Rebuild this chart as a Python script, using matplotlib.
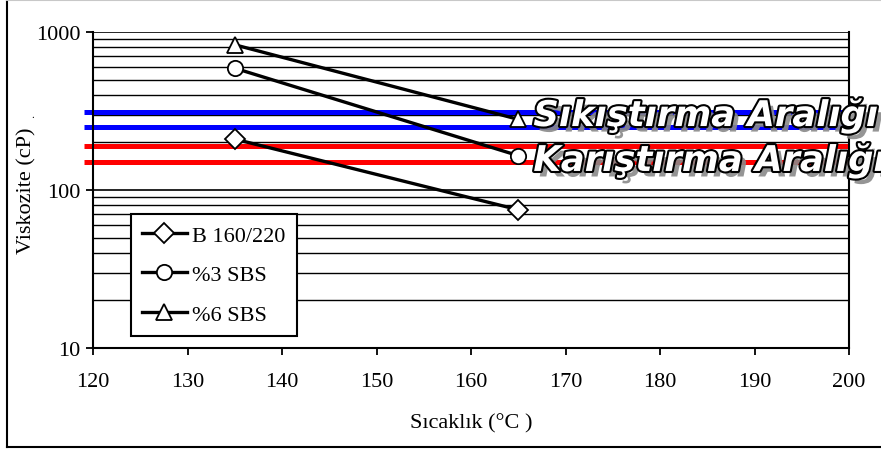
import matplotlib
matplotlib.use("Agg")
import matplotlib.pyplot as plt
import matplotlib.patheffects as pe
from matplotlib.lines import Line2D
import numpy as np

plt.rcParams['font.family'] = ['Liberation Serif', 'DejaVu Serif']

# Data
temps = [135, 165]
b160 = [210, 75]
sbs3 = [590, 165]
sbs6 = [830, 280]
series_labels = ["B 160/220", "%3 SBS", "%6 SBS"]
series_markers = ["D", "o", "^"]
compaction_range = [250, 310]
mixing_range = [150, 190]
range_labels = ["Sıkıştırma Aralığı", "Karıştırma Aralığı"]
xticks = [120, 130, 140, 150, 160, 170, 180, 190, 200]
yticks = [10, 100, 1000]

fig = plt.figure(figsize=(8.81, 4.52), dpi=100)
W, H = 881, 452
ax = fig.add_axes([93 / W, 1 - 349 / H, (849 - 93) / W, (349 - 33) / H])

ax.set_yscale('log')
ax.set_xlim(120, 200)
ax.set_ylim(10, 1000)

# gridlines (minor and major)
for dec in [10, 100]:
    for m in range(2, 10):
        ax.axhline(dec * m, color='black', lw=1.0, zorder=1)
ax.axhline(100, color='black', lw=1.2, zorder=1)
ax.axhline(1000, color='black', lw=1.2, zorder=1)

# range lines
for v in compaction_range:
    ax.hlines(v, 119.05, 200, colors='#0000ff', lw=3.6, clip_on=False, zorder=2)
for v in mixing_range:
    ax.hlines(v, 119.05, 200, colors='#ff0000', lw=3.6, clip_on=False, zorder=2)

handles = []
for ys, mk, lab in zip([b160, sbs3, sbs6], series_markers, series_labels):
    ms = 10 if mk == 'D' else 11
    ax.plot(temps, ys, color='black', lw=2.4, marker=mk, ms=ms,
            mfc='white', mec='black', mew=1.3, zorder=4, clip_on=False)
    handles.append(Line2D([], [], color='black', lw=2.4, marker=mk, ms=ms,
                          mfc='white', mec='black', mew=1.3))

# range texts
effects = [pe.SimplePatchShadow(offset=(4, -4), shadow_rgbFace='#8a8a8a', alpha=0.9),
           pe.Stroke(linewidth=3, foreground='black'), pe.Normal()]
for yv, lab in zip([254, 132], range_labels):
    ax.text(166.6, yv, lab, fontsize=25.5, fontweight='bold', fontstyle='italic',
            family='DejaVu Sans', color='white', va='baseline', ha='left',
            path_effects=effects, clip_on=False, zorder=6)

ax.set_xticks(xticks)
ax.set_yticks(yticks)
ax.set_yticklabels([str(t) for t in yticks])
ax.yaxis.set_minor_locator(matplotlib.ticker.NullLocator())
ax.tick_params(axis='x', direction='out', length=5, width=1.3, pad=12, labelsize=16)
ax.tick_params(axis='y', direction='out', length=5, width=1.3, pad=4, labelsize=16)
for s in ax.spines.values():
    s.set_linewidth(1.5)
ax.spines['top'].set_visible(False)

ax.set_xlabel("Sıcaklık (°C )", fontsize=16)
ax.set_ylabel("Viskozite (cP)", fontsize=16)
ax.xaxis.set_label_coords(0.5, (349 - 424) / 316)
ax.xaxis.label.set_va('center')
ax.yaxis.set_label_coords((27 - 93) / 756, 0.5)
ax.yaxis.label.set_va('center')
fig.text(33 / W, 1 - 115 / H, ".", fontsize=8, ha='center', va='center')

leg = ax.legend(handles, series_labels, loc='upper left',
                bbox_to_anchor=((131 - 93) / 756, (349 - 215) / 316),
                borderaxespad=0, fancybox=False, framealpha=1, edgecolor='black',
                fontsize=16, handlelength=2.0, handletextpad=0.25,
                labelspacing=0.85, borderpad=0.5)
leg.get_frame().set_linewidth(1.5)
leg.set_zorder(7)

# outer border
fig.add_artist(Line2D([7 / W, 7 / W], [4 / H, 1 - 0.5 / H], color='black', lw=1.5))
fig.add_artist(Line2D([7 / W, 1.0], [4 / H, 4 / H], color='black', lw=1.5))
fig.add_artist(Line2D([7 / W, 1.0], [1 - 0.5 / H, 1 - 0.5 / H], color='#c8c8c8', lw=1.5))

fig.savefig("out.png", dpi=100)
